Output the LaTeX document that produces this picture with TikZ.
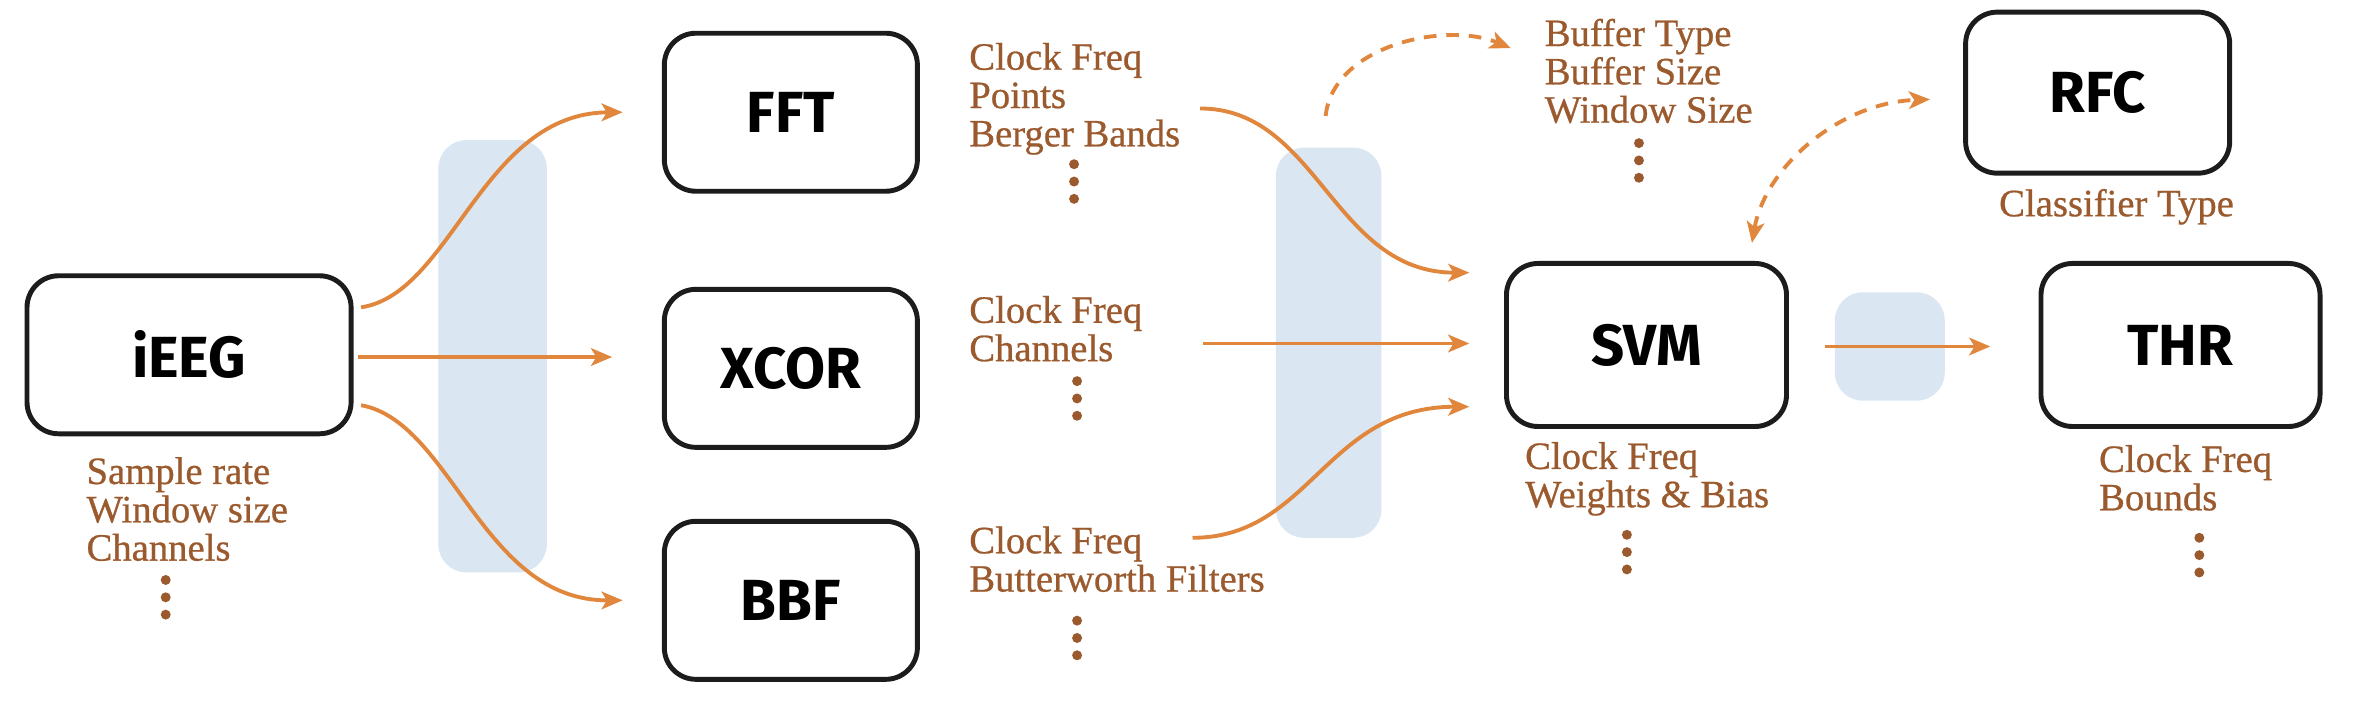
\documentclass[tikz,border=0pt]{standalone}
\usepackage{fontspec}
\setmainfont{Liberation Serif}
\newfontfamily\labfont{Liberation Serif}[FakeBold=0.7]
\newfontfamily\boxfont{Fira Sans}
\usetikzlibrary{calc,arrows.meta}
\definecolor{arr}{HTML}{E0873D}
\definecolor{lab}{HTML}{9B5A2E}
\definecolor{band}{HTML}{DAE6F1}
\definecolor{boxc}{HTML}{1C1C1C}
\tikzset{
  stage/.style={draw=boxc, line width=1.4pt, rounded corners=9pt, fill=white,
    minimum width=#1, minimum height=1.58cm, inner sep=0pt,
    font=\boxfont\bfseries\fontsize{16.5}{18}\selectfont},
  stage/.default=2.53cm,
  param/.style={text=lab, anchor=north west, align=left, inner sep=0pt,
    font=\labfont\fontsize{11}{10.9}\selectfont},
  flow/.style={draw=arr, line width=1.1pt, -{Stealth[length=6pt,width=5pt,inset=1.5pt]}},
  dflow/.style={flow, dash pattern=on 3.6pt off 2.8pt},
  bandbox/.style={fill=band, rounded corners=8pt},
}
\newcommand{\threedots}[2]{%
  \foreach \dy in {0,11.5,23}{\fill[lab] (#1,#2+\dy) circle[radius=3.3];}}
\begin{document}
\begin{tikzpicture}[x=0.015064cm, y=-0.015064cm]
\useasboundingbox (0,0) rectangle (1568,478);
% blue bands
\fill[bandbox] (291,93) rectangle (363,380);
\fill[bandbox] (847,98) rectangle (917,357);
\fill[bandbox] (1218,194) rectangle (1291,266);
\coordinate (band2top) at (880,77);
% stages
\node[stage=3.24cm] (ieeg) at (125.5,235.5) {iEEG};
\node[stage] (fft) at (525,74.5) {FFT};
\node[stage] (xcor) at (525,244.5) {XCOR};
\node[stage] (bbf) at (525,398.5) {BBF};
\node[stage=2.80cm, minimum height=1.63cm] (svm) at (1093,229) {SVM};
\node[stage=2.79cm, minimum height=1.63cm] (thr) at (1447.5,229) {THR};
\node[stage=2.64cm, minimum height=1.61cm] (rfc) at (1392.5,61.5) {RFC};
% parameters
\node[param] (ieegl) at (57,303) {Sample rate\\Window size\\Channels};
\node[param] (fftl) at (643,28) {Clock Freq\\Points\\Berger Bands};
\node[param] (xcorl) at (643,196) {Clock Freq\\Channels};
\node[param] (bbfl) at (643,349) {Clock Freq\\Butterworth Filters};
\node[param] (bufl) at (1025,12) {Buffer Type\\Buffer Size\\Window Size};
\node[param] (svml) at (1012,293) {Clock Freq\\Weights \& Bias};
\node[param] (thrl) at (1393,295) {Clock Freq\\Bounds};
\node[param, anchor=north] (rfcl) at (1405,125) {Classifier Type};
\threedots{110}{385}
\threedots{713}{109}
\threedots{715}{253}
\threedots{715}{412}
\threedots{1088}{95}
\threedots{1080}{355}
\threedots{1460}{357}
% connectors
\draw[flow] ($(ieeg.east)+(5,-31.5)$) .. controls (300,195) and (320,75) .. ($(fft.west)+(-26,0)$);
\draw[flow] ($(ieeg.east)+(3,1.5)$) -- ($(xcor.west)+(-33,-7.5)$);
\draw[flow] ($(ieeg.east)+(5,33.5)$) .. controls (300,280) and (320,399) .. ($(bbf.west)+(-26,0)$);
\draw[flow] ($(fft.east)+(186,-2.5)$) .. controls (875,72) and (885,181) .. ($(svm.west)+(-23,-48)$);
\draw[flow] ($(xcor.east)+(188,-16.5)$) -- ($(svm.west)+(-23,-1)$);
\draw[flow] ($(bbf.east)+(181,-41.5)$) .. controls (870,357) and (880,270) .. ($(svm.west)+(-23,41)$);
\draw[flow] ($(svm.east)+(24,1)$) -- ($(thr.west)+(-32,1)$);
\draw[dflow] (band2top) .. controls (885,30) and (960,14) .. ($(bufl.north west)+(-22,20)$);
\draw[dflow, {Stealth[length=6pt,width=5pt,inset=1.5pt]}-{Stealth[length=6pt,width=5pt,inset=1.5pt]}] ($(svm.north)+(70,-12)$) .. controls (1172,110) and (1222,68) .. ($(rfc.west)+(-22,4.5)$);
\end{tikzpicture}
\end{document}
